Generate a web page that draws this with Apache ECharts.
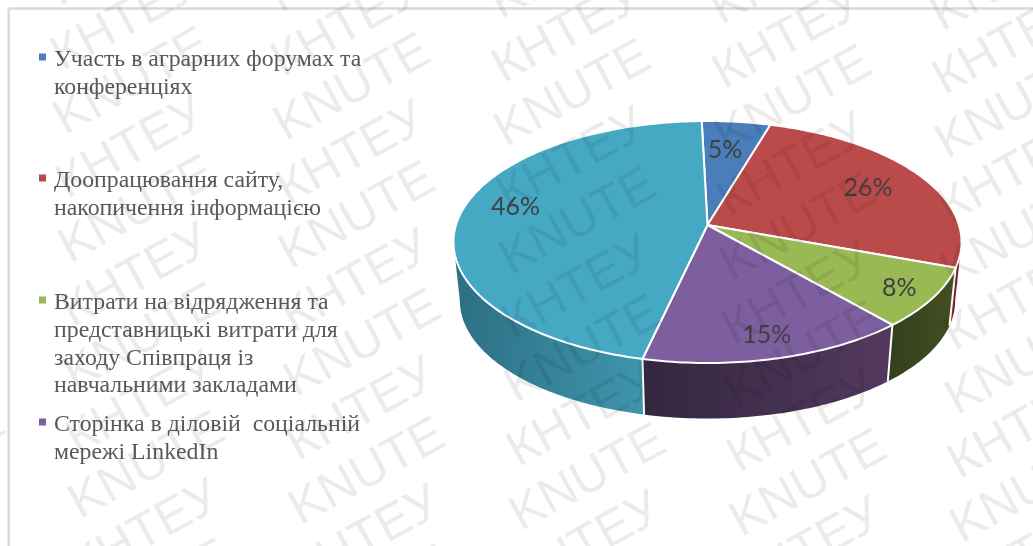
<!DOCTYPE html>
<html>
<head>
<meta charset="utf-8">
<style>html,body{margin:0;padding:0;background:#fff}#chart{width:1033px;height:546px}</style>
<script src="https://cdn.jsdelivr.net/npm/echarts@6/dist/echarts.min.js"></script>
</head>
<body>
<div id="chart"></div>
<script>
// Budget shares by activity; the fifth slice has no legend entry.
const categories = [
  'Участь в аграрних форумах та\nконференціях',
  'Доопрацювання сайту,\nнакопичення інформацією',
  'Витрати на відрядження та\nпредставницькі витрати для\nзаходу Співпраця із\nнавчальними закладами',
  'Сторінка в діловій  соціальній\nмережі LinkedIn'
];
const shareValues = [5, 26, 8, 15, 46];
const topColors = ['#4a7ebb', '#bb4b4a', '#98b954', '#7d5fa0', '#46a9c4'];
const wallColors = [
  ['#2c4a70', '#2c4a70'],
  ['#7a2725', '#6a1f1e'],
  ['#333f1b', '#444f22'],
  ['#33263f', '#54395f'],
  ['#2d6f83', '#3e95ac']
];
const labelReach = [0.75, 0.75, 0.86, 0.82, 0.79];
const labelNudge = [[-4, 2], [2, 1], [-2, 0], [1, 1], [3, -9]];
const legendCentres = [60, 181, 303, 425];
const watermarkWords = ['КНТЕУ', 'KNUTE'];

// Perspective disc: screen offset from the apex for an angle clockwise from the back.
const apex = { x: 707.5, y: 225 };
const disc = { a: 251.5, b: 118.6, p: 0.1405, depth: 59, shrink: 0.975, turn: -1.5 };
const DEG = Math.PI / 180;

function rim(deg, bottom) {
  const t = (deg + disc.turn) * DEG;
  const u = Math.sin(t), v = Math.cos(t), w = 1 + disc.p * v;
  const k = bottom ? disc.shrink : 1;
  return [
    apex.x + k * disc.a * u / w,
    apex.y - k * disc.b * v / w + (bottom ? disc.depth : 0)
  ];
}
function arc(from, to, bottom) {
  const pts = [];
  const n = Math.max(2, Math.ceil(Math.abs(to - from)));
  for (let i = 0; i <= n; i++) pts.push(rim(from + (to - from) * i / n, bottom));
  return pts;
}

const total = shareValues.reduce((s, v) => s + v, 0);
const wallFrom = Math.acos(-disc.p) / DEG - disc.turn;
const wallTo = 360 - Math.acos(-disc.p) / DEG - disc.turn;

function sliceRenderer(index) {
  return function (params, api) {
    const before = shareValues.slice(0, index).reduce((s, v) => s + v, 0);
    const start = before / total * 360;
    const end = start + api.value(0) / total * 360;
    const children = [];

    const a = Math.max(start, wallFrom), b = Math.min(end, wallTo);
    if (b > a) {
      children.push({
        type: 'polygon',
        shape: { points: arc(a, b, false).concat(arc(b, a, true)) },
        style: {
          fill: {
            type: 'linear', x: 0, y: 0, x2: 1, y2: 0,
            colorStops: [
              { offset: 0, color: wallColors[index][0] },
              { offset: 1, color: wallColors[index][1] }
            ]
          }
        }
      });
      if (start >= wallFrom && start <= wallTo) {
        const p = rim(start, false), q = rim(start, true);
        children.push({
          type: 'line',
          shape: { x1: p[0], y1: p[1], x2: q[0], y2: q[1] },
          style: { stroke: '#fff', lineWidth: 2 }
        });
      }
    }

    children.push({
      type: 'polygon',
      shape: { points: [[apex.x, apex.y]].concat(arc(start, end, false)) },
      style: { fill: topColors[index], stroke: '#fff', lineWidth: 2, lineJoin: 'round' }
    });

    const mid = rim((start + end) / 2, false);
    const reach = labelReach[index];
    children.push({
      type: 'text',
      style: {
        text: api.value(0) + '%',
        x: apex.x + (mid[0] - apex.x) * reach + labelNudge[index][0],
        y: apex.y + (mid[1] - apex.y) * reach + labelNudge[index][1],
        font: '25px Lato',
        fill: '#404040',
        align: 'center',
        verticalAlign: 'middle'
      }
    });
    return { type: 'group', children: children };
  };
}

const series = shareValues.map((value, i) => ({
  type: 'custom',
  name: categories[i] || ' ',
  coordinateSystem: 'none',
  itemStyle: { color: topColors[i] },
  silent: true,
  animation: false,
  data: [[value]],
  renderItem: sliceRenderer(i)
}));

// Each entry gets its own legend so the entries keep an even pitch.
const LINE = 27.7;
const legends = categories.map((name, i) => {
  const lines = name.split('\n').length;
  const h = LINE * lines;
  const y0 = LINE / 2 - 6.5;
  return {
    data: [name],
    left: 39,
    top: legendCentres[i] - LINE / 2,
    orient: 'vertical',
    padding: 0,
    selectedMode: false,
    itemWidth: 10,
    itemHeight: h,
    icon: 'path://M0 0L0 0ZM10 ' + h + 'L10 ' + h + 'ZM0 ' + y0 + 'H7V' + (y0 + 7) + 'H0Z',
    textStyle: {
      fontFamily: '"Liberation Serif"',
      fontSize: 23.8,
      lineHeight: LINE,
      color: '#595959'
    }
  };
});

// Diagonal watermark tiled over the whole page.
const marks = [];
const origin = { x: 508.6, y: 93.4 };
for (let row = -4; row < 12; row++) {
  for (let col = -4; col < 6; col++) {
    marks.push({
      type: 'text',
      silent: true,
      z: 100,
      x: origin.x + col * 220.5 + row * 2.5,
      y: origin.y + col * 6 + row * 64,
      rotation: 28.7 * DEG,
      style: {
        text: watermarkWords[((row % 2) + 2) % 2],
        font: '50px "Liberation Sans"',
        fill: 'rgba(0,0,0,0.08)',
        align: 'left',
        verticalAlign: 'bottom'
      }
    });
  }
}

// Page frame: top and left rules only.
const frame = [
  { x1: 8.7, y1: 8.5, x2: 1033, y2: 8.5 },
  { x1: 8.7, y1: 8.5, x2: 8.7, y2: 546 }
].map(shape => ({
  type: 'line', silent: true, z: 1, shape: shape,
  style: { stroke: '#d9d9d9', lineWidth: 2.5 }
}));

const chart = echarts.init(document.getElementById('chart'));
chart.setOption({
  backgroundColor: '#ffffff',
  animation: false,
  legend: legends,
  series: series,
  graphic: { elements: frame.concat(marks) }
});
</script>
</body>
</html>
